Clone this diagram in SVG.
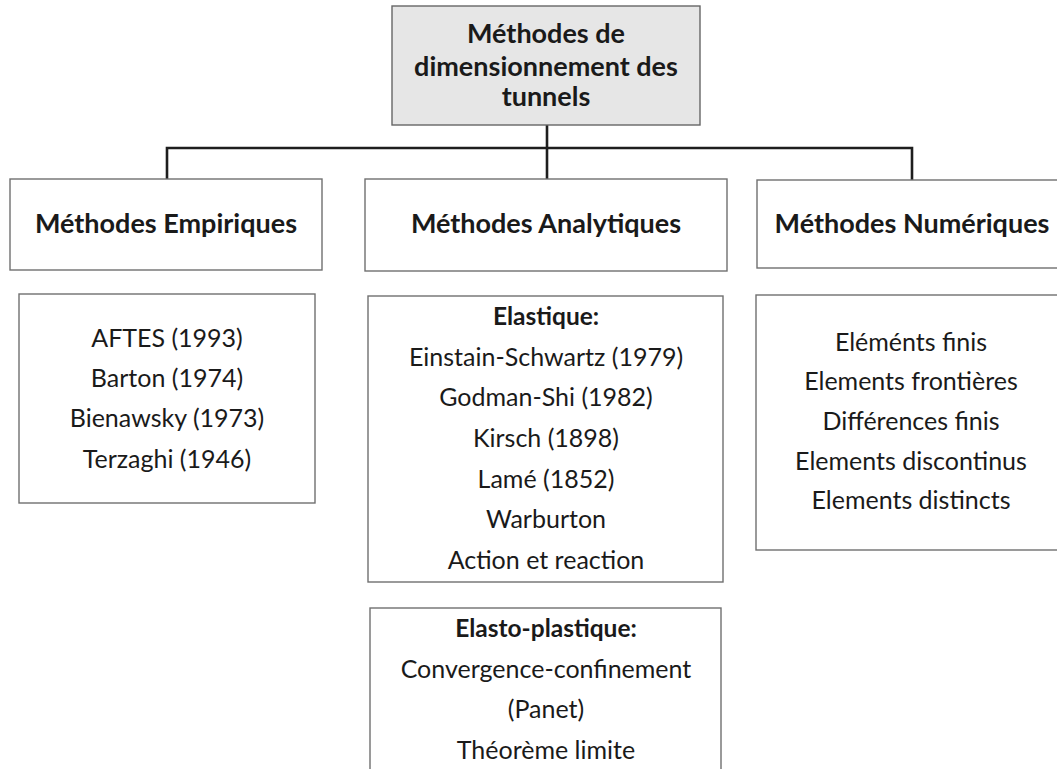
<svg xmlns="http://www.w3.org/2000/svg" width="1057" height="769" viewBox="0 0 1057 769">
<style>
.box{fill:#ffffff;stroke:#707070;stroke-width:1.4}
.root{fill:#e6e6e6;stroke:#666666;stroke-width:1.4}
.conn{fill:none;stroke:#1e1e1e;stroke-width:2.6}
text{font-family:Lato,"Open Sans","Liberation Sans",sans-serif;fill:#1a1a1a;text-anchor:middle}
.h{font-weight:bold;font-size:27px}
.t{font-size:25px}
.b{font-weight:bold;font-size:24.5px}
</style>
<rect width="1057" height="769" fill="#ffffff"/>
<g id="connectors">
<path class="conn" d="M547 125 V180"/>
<path class="conn" d="M167 180 V148 H912 V180"/>
</g>
<g id="root">
<rect class="root" x="392" y="6" width="308" height="119"/>
<text class="h" x="546" y="43">Méthodes de</text>
<text class="h" x="546" y="76">dimensionnement des</text>
<text class="h" x="546" y="106">tunnels</text>
</g>
<g id="empiriques">
<rect class="box" x="10" y="179" width="312" height="91"/>
<text class="h" x="166" y="233">Méthodes Empiriques</text>
</g>
<g id="analytiques">
<rect class="box" x="365" y="179" width="362" height="92"/>
<text class="h" x="546" y="233">Méthodes Analytiques</text>
</g>
<g id="numeriques">
<rect class="box" x="757" y="180" width="320" height="88"/>
<text class="h" x="912" y="233">Méthodes Numériques</text>
</g>
<g id="empiriques-list">
<rect class="box" x="19" y="294" width="296" height="209"/>
<text class="t" x="167" y="347">AFTES (1993)</text>
<text class="t" x="167" y="387">Barton (1974)</text>
<text class="t" x="167" y="427">Bienawsky (1973)</text>
<text class="t" x="167" y="468">Terzaghi (1946)</text>
</g>
<g id="elastique">
<rect class="box" x="368" y="296" width="355" height="286"/>
<text class="b" x="546" y="325">Elastique:</text>
<text class="t" x="546" y="366">Einstain-Schwartz (1979)</text>
<text class="t" x="546" y="406">Godman-Shi (1982)</text>
<text class="t" x="546" y="447">Kirsch (1898)</text>
<text class="t" x="546" y="488">Lamé (1852)</text>
<text class="t" x="546" y="528">Warburton</text>
<text class="t" x="546" y="569">Action et reaction</text>
</g>
<g id="elasto-plastique">
<rect class="box" x="370" y="608" width="351" height="180"/>
<text class="b" x="546" y="637">Elasto-plastique:</text>
<text class="t" x="546" y="678">Convergence-confinement</text>
<text class="t" x="546" y="718">(Panet)</text>
<text class="t" x="546" y="759">Théorème limite</text>
</g>
<g id="numeriques-list">
<rect class="box" x="756" y="295" width="320" height="255"/>
<text class="t" x="911" y="351">Eléménts finis</text>
<text class="t" x="911" y="390">Elements frontières</text>
<text class="t" x="911" y="430">Différences finis</text>
<text class="t" x="911" y="470">Elements discontinus</text>
<text class="t" x="911" y="509">Elements distincts</text>
</g>
</svg>
